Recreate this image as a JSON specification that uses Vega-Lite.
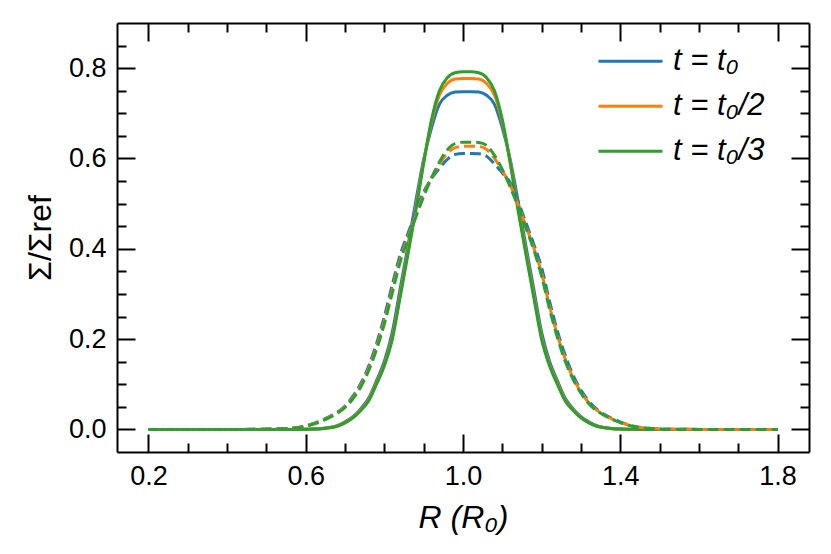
{
"$schema": "https://vega.github.io/schema/vega-lite/v6.json",
"width": 692, "height": 429,
"autosize": {"type": "none"},
"padding": {"left": 117, "top": 23, "right": 22, "bottom": 102},
"background": "white",
"data": {"values": [
{"t":"t = t₀","k":"solid","x":0.2,"y":0},{"t":"t = t₀","k":"solid","x":0.3,"y":0},{"t":"t = t₀","k":"solid","x":0.4,"y":0},{"t":"t = t₀","k":"solid","x":0.5,"y":0},{"t":"t = t₀","k":"solid","x":0.56,"y":0.0001},{"t":"t = t₀","k":"solid","x":0.6,"y":0.0004},{"t":"t = t₀","k":"solid","x":0.62,"y":0.001},{"t":"t = t₀","k":"solid","x":0.64,"y":0.0019},{"t":"t = t₀","k":"solid","x":0.66,"y":0.0042},{"t":"t = t₀","k":"solid","x":0.68,"y":0.0085},{"t":"t = t₀","k":"solid","x":0.7,"y":0.017},{"t":"t = t₀","k":"solid","x":0.72,"y":0.028},{"t":"t = t₀","k":"solid","x":0.74,"y":0.046},{"t":"t = t₀","k":"solid","x":0.76,"y":0.069},{"t":"t = t₀","k":"solid","x":0.78,"y":0.108},{"t":"t = t₀","k":"solid","x":0.8,"y":0.151},{"t":"t = t₀","k":"solid","x":0.82,"y":0.215},{"t":"t = t₀","k":"solid","x":0.84,"y":0.311},{"t":"t = t₀","k":"solid","x":0.86,"y":0.406},{"t":"t = t₀","k":"solid","x":0.88,"y":0.506},{"t":"t = t₀","k":"solid","x":0.9,"y":0.598},{"t":"t = t₀","k":"solid","x":0.92,"y":0.668},{"t":"t = t₀","k":"solid","x":0.94,"y":0.72},{"t":"t = t₀","k":"solid","x":0.96,"y":0.74},{"t":"t = t₀","k":"solid","x":0.98,"y":0.747},{"t":"t = t₀","k":"solid","x":1.0,"y":0.748},{"t":"t = t₀","k":"solid","x":1.02,"y":0.748},{"t":"t = t₀","k":"solid","x":1.04,"y":0.747},{"t":"t = t₀","k":"solid","x":1.06,"y":0.74},{"t":"t = t₀","k":"solid","x":1.08,"y":0.72},{"t":"t = t₀","k":"solid","x":1.1,"y":0.668},{"t":"t = t₀","k":"solid","x":1.12,"y":0.598},{"t":"t = t₀","k":"solid","x":1.14,"y":0.506},{"t":"t = t₀","k":"solid","x":1.16,"y":0.406},{"t":"t = t₀","k":"solid","x":1.18,"y":0.311},{"t":"t = t₀","k":"solid","x":1.2,"y":0.215},{"t":"t = t₀","k":"solid","x":1.22,"y":0.151},{"t":"t = t₀","k":"solid","x":1.24,"y":0.108},{"t":"t = t₀","k":"solid","x":1.26,"y":0.069},{"t":"t = t₀","k":"solid","x":1.28,"y":0.046},{"t":"t = t₀","k":"solid","x":1.3,"y":0.028},{"t":"t = t₀","k":"solid","x":1.32,"y":0.017},{"t":"t = t₀","k":"solid","x":1.34,"y":0.0085},{"t":"t = t₀","k":"solid","x":1.36,"y":0.0042},{"t":"t = t₀","k":"solid","x":1.38,"y":0.0019},{"t":"t = t₀","k":"solid","x":1.4,"y":0.001},{"t":"t = t₀","k":"solid","x":1.44,"y":0.0003},{"t":"t = t₀","k":"solid","x":1.48,"y":0.0001},{"t":"t = t₀","k":"solid","x":1.52,"y":0},{"t":"t = t₀","k":"solid","x":1.6,"y":0},{"t":"t = t₀","k":"solid","x":1.7,"y":0},{"t":"t = t₀","k":"solid","x":1.8,"y":0},
{"t":"t = t₀/2","k":"solid","x":0.2,"y":0},{"t":"t = t₀/2","k":"solid","x":0.3,"y":0},{"t":"t = t₀/2","k":"solid","x":0.4,"y":0},{"t":"t = t₀/2","k":"solid","x":0.5,"y":0},{"t":"t = t₀/2","k":"solid","x":0.56,"y":0.0001},{"t":"t = t₀/2","k":"solid","x":0.6,"y":0.0004},{"t":"t = t₀/2","k":"solid","x":0.62,"y":0.0009},{"t":"t = t₀/2","k":"solid","x":0.64,"y":0.0017},{"t":"t = t₀/2","k":"solid","x":0.66,"y":0.0037},{"t":"t = t₀/2","k":"solid","x":0.68,"y":0.0076},{"t":"t = t₀/2","k":"solid","x":0.7,"y":0.0157},{"t":"t = t₀/2","k":"solid","x":0.72,"y":0.0263},{"t":"t = t₀/2","k":"solid","x":0.74,"y":0.0434},{"t":"t = t₀/2","k":"solid","x":0.76,"y":0.065},{"t":"t = t₀/2","k":"solid","x":0.78,"y":0.103},{"t":"t = t₀/2","k":"solid","x":0.8,"y":0.144},{"t":"t = t₀/2","k":"solid","x":0.82,"y":0.204},{"t":"t = t₀/2","k":"solid","x":0.84,"y":0.298},{"t":"t = t₀/2","k":"solid","x":0.86,"y":0.394},{"t":"t = t₀/2","k":"solid","x":0.88,"y":0.492},{"t":"t = t₀/2","k":"solid","x":0.9,"y":0.593},{"t":"t = t₀/2","k":"solid","x":0.92,"y":0.68},{"t":"t = t₀/2","k":"solid","x":0.94,"y":0.74},{"t":"t = t₀/2","k":"solid","x":0.96,"y":0.766},{"t":"t = t₀/2","k":"solid","x":0.98,"y":0.776},{"t":"t = t₀/2","k":"solid","x":1.0,"y":0.777},{"t":"t = t₀/2","k":"solid","x":1.02,"y":0.777},{"t":"t = t₀/2","k":"solid","x":1.04,"y":0.776},{"t":"t = t₀/2","k":"solid","x":1.06,"y":0.766},{"t":"t = t₀/2","k":"solid","x":1.08,"y":0.74},{"t":"t = t₀/2","k":"solid","x":1.1,"y":0.68},{"t":"t = t₀/2","k":"solid","x":1.12,"y":0.593},{"t":"t = t₀/2","k":"solid","x":1.14,"y":0.492},{"t":"t = t₀/2","k":"solid","x":1.16,"y":0.394},{"t":"t = t₀/2","k":"solid","x":1.18,"y":0.298},{"t":"t = t₀/2","k":"solid","x":1.2,"y":0.204},{"t":"t = t₀/2","k":"solid","x":1.22,"y":0.144},{"t":"t = t₀/2","k":"solid","x":1.24,"y":0.103},{"t":"t = t₀/2","k":"solid","x":1.26,"y":0.065},{"t":"t = t₀/2","k":"solid","x":1.28,"y":0.0434},{"t":"t = t₀/2","k":"solid","x":1.3,"y":0.0263},{"t":"t = t₀/2","k":"solid","x":1.32,"y":0.0153},{"t":"t = t₀/2","k":"solid","x":1.34,"y":0.0076},{"t":"t = t₀/2","k":"solid","x":1.36,"y":0.0037},{"t":"t = t₀/2","k":"solid","x":1.38,"y":0.0017},{"t":"t = t₀/2","k":"solid","x":1.4,"y":0.0009},{"t":"t = t₀/2","k":"solid","x":1.44,"y":0.0002},{"t":"t = t₀/2","k":"solid","x":1.48,"y":0},{"t":"t = t₀/2","k":"solid","x":1.52,"y":0},{"t":"t = t₀/2","k":"solid","x":1.6,"y":0},{"t":"t = t₀/2","k":"solid","x":1.7,"y":0},{"t":"t = t₀/2","k":"solid","x":1.8,"y":0},
{"t":"t = t₀/3","k":"solid","x":0.2,"y":0},{"t":"t = t₀/3","k":"solid","x":0.3,"y":0},{"t":"t = t₀/3","k":"solid","x":0.4,"y":0},{"t":"t = t₀/3","k":"solid","x":0.5,"y":0},{"t":"t = t₀/3","k":"solid","x":0.56,"y":0},{"t":"t = t₀/3","k":"solid","x":0.6,"y":0.0004},{"t":"t = t₀/3","k":"solid","x":0.62,"y":0.0009},{"t":"t = t₀/3","k":"solid","x":0.64,"y":0.0016},{"t":"t = t₀/3","k":"solid","x":0.66,"y":0.0035},{"t":"t = t₀/3","k":"solid","x":0.68,"y":0.0071},{"t":"t = t₀/3","k":"solid","x":0.7,"y":0.0145},{"t":"t = t₀/3","k":"solid","x":0.72,"y":0.0255},{"t":"t = t₀/3","k":"solid","x":0.74,"y":0.042},{"t":"t = t₀/3","k":"solid","x":0.76,"y":0.063},{"t":"t = t₀/3","k":"solid","x":0.78,"y":0.1},{"t":"t = t₀/3","k":"solid","x":0.8,"y":0.141},{"t":"t = t₀/3","k":"solid","x":0.82,"y":0.199},{"t":"t = t₀/3","k":"solid","x":0.84,"y":0.292},{"t":"t = t₀/3","k":"solid","x":0.86,"y":0.388},{"t":"t = t₀/3","k":"solid","x":0.88,"y":0.485},{"t":"t = t₀/3","k":"solid","x":0.9,"y":0.59},{"t":"t = t₀/3","k":"solid","x":0.92,"y":0.686},{"t":"t = t₀/3","k":"solid","x":0.94,"y":0.75},{"t":"t = t₀/3","k":"solid","x":0.96,"y":0.779},{"t":"t = t₀/3","k":"solid","x":0.98,"y":0.79},{"t":"t = t₀/3","k":"solid","x":1.0,"y":0.792},{"t":"t = t₀/3","k":"solid","x":1.02,"y":0.792},{"t":"t = t₀/3","k":"solid","x":1.04,"y":0.79},{"t":"t = t₀/3","k":"solid","x":1.06,"y":0.779},{"t":"t = t₀/3","k":"solid","x":1.08,"y":0.75},{"t":"t = t₀/3","k":"solid","x":1.1,"y":0.686},{"t":"t = t₀/3","k":"solid","x":1.12,"y":0.59},{"t":"t = t₀/3","k":"solid","x":1.14,"y":0.485},{"t":"t = t₀/3","k":"solid","x":1.16,"y":0.388},{"t":"t = t₀/3","k":"solid","x":1.18,"y":0.292},{"t":"t = t₀/3","k":"solid","x":1.2,"y":0.199},{"t":"t = t₀/3","k":"solid","x":1.22,"y":0.141},{"t":"t = t₀/3","k":"solid","x":1.24,"y":0.1},{"t":"t = t₀/3","k":"solid","x":1.26,"y":0.063},{"t":"t = t₀/3","k":"solid","x":1.28,"y":0.042},{"t":"t = t₀/3","k":"solid","x":1.3,"y":0.0255},{"t":"t = t₀/3","k":"solid","x":1.32,"y":0.0145},{"t":"t = t₀/3","k":"solid","x":1.34,"y":0.0071},{"t":"t = t₀/3","k":"solid","x":1.36,"y":0.0035},{"t":"t = t₀/3","k":"solid","x":1.38,"y":0.0016},{"t":"t = t₀/3","k":"solid","x":1.4,"y":0.0009},{"t":"t = t₀/3","k":"solid","x":1.44,"y":0.0002},{"t":"t = t₀/3","k":"solid","x":1.48,"y":0},{"t":"t = t₀/3","k":"solid","x":1.52,"y":0},{"t":"t = t₀/3","k":"solid","x":1.6,"y":0},{"t":"t = t₀/3","k":"solid","x":1.7,"y":0},{"t":"t = t₀/3","k":"solid","x":1.8,"y":0},
{"t":"t = t₀","k":"dashed","x":0.2,"y":0},{"t":"t = t₀","k":"dashed","x":0.3,"y":0},{"t":"t = t₀","k":"dashed","x":0.4,"y":0},{"t":"t = t₀","k":"dashed","x":0.45,"y":0.0002},{"t":"t = t₀","k":"dashed","x":0.5,"y":0.0007},{"t":"t = t₀","k":"dashed","x":0.54,"y":0.0017},{"t":"t = t₀","k":"dashed","x":0.56,"y":0.0025},{"t":"t = t₀","k":"dashed","x":0.58,"y":0.0044},{"t":"t = t₀","k":"dashed","x":0.6,"y":0.008},{"t":"t = t₀","k":"dashed","x":0.62,"y":0.0135},{"t":"t = t₀","k":"dashed","x":0.64,"y":0.02},{"t":"t = t₀","k":"dashed","x":0.66,"y":0.0285},{"t":"t = t₀","k":"dashed","x":0.68,"y":0.038},{"t":"t = t₀","k":"dashed","x":0.7,"y":0.052},{"t":"t = t₀","k":"dashed","x":0.72,"y":0.0735},{"t":"t = t₀","k":"dashed","x":0.74,"y":0.102},{"t":"t = t₀","k":"dashed","x":0.76,"y":0.14},{"t":"t = t₀","k":"dashed","x":0.78,"y":0.19},{"t":"t = t₀","k":"dashed","x":0.8,"y":0.25},{"t":"t = t₀","k":"dashed","x":0.82,"y":0.32},{"t":"t = t₀","k":"dashed","x":0.84,"y":0.386},{"t":"t = t₀","k":"dashed","x":0.86,"y":0.434},{"t":"t = t₀","k":"dashed","x":0.88,"y":0.482},{"t":"t = t₀","k":"dashed","x":0.9,"y":0.526},{"t":"t = t₀","k":"dashed","x":0.92,"y":0.556},{"t":"t = t₀","k":"dashed","x":0.94,"y":0.578},{"t":"t = t₀","k":"dashed","x":0.96,"y":0.598},{"t":"t = t₀","k":"dashed","x":0.98,"y":0.609},{"t":"t = t₀","k":"dashed","x":1.0,"y":0.611},{"t":"t = t₀","k":"dashed","x":1.02,"y":0.611},{"t":"t = t₀","k":"dashed","x":1.04,"y":0.6105},{"t":"t = t₀","k":"dashed","x":1.06,"y":0.605},{"t":"t = t₀","k":"dashed","x":1.08,"y":0.588},{"t":"t = t₀","k":"dashed","x":1.1,"y":0.568},{"t":"t = t₀","k":"dashed","x":1.12,"y":0.547},{"t":"t = t₀","k":"dashed","x":1.14,"y":0.505},{"t":"t = t₀","k":"dashed","x":1.16,"y":0.458},{"t":"t = t₀","k":"dashed","x":1.18,"y":0.41},{"t":"t = t₀","k":"dashed","x":1.2,"y":0.358},{"t":"t = t₀","k":"dashed","x":1.22,"y":0.284},{"t":"t = t₀","k":"dashed","x":1.24,"y":0.218},{"t":"t = t₀","k":"dashed","x":1.26,"y":0.164},{"t":"t = t₀","k":"dashed","x":1.28,"y":0.12},{"t":"t = t₀","k":"dashed","x":1.3,"y":0.087},{"t":"t = t₀","k":"dashed","x":1.32,"y":0.0625},{"t":"t = t₀","k":"dashed","x":1.34,"y":0.045},{"t":"t = t₀","k":"dashed","x":1.36,"y":0.0328},{"t":"t = t₀","k":"dashed","x":1.38,"y":0.024},{"t":"t = t₀","k":"dashed","x":1.4,"y":0.0165},{"t":"t = t₀","k":"dashed","x":1.42,"y":0.0105},{"t":"t = t₀","k":"dashed","x":1.44,"y":0.006},{"t":"t = t₀","k":"dashed","x":1.46,"y":0.0035},{"t":"t = t₀","k":"dashed","x":1.5,"y":0.0013},{"t":"t = t₀","k":"dashed","x":1.55,"y":0.0005},{"t":"t = t₀","k":"dashed","x":1.6,"y":0.0001},{"t":"t = t₀","k":"dashed","x":1.7,"y":0},{"t":"t = t₀","k":"dashed","x":1.8,"y":0},
{"t":"t = t₀/2","k":"dashed","x":0.2,"y":0},{"t":"t = t₀/2","k":"dashed","x":0.3,"y":0},{"t":"t = t₀/2","k":"dashed","x":0.4,"y":0},{"t":"t = t₀/2","k":"dashed","x":0.45,"y":0.0001},{"t":"t = t₀/2","k":"dashed","x":0.5,"y":0.0006},{"t":"t = t₀/2","k":"dashed","x":0.54,"y":0.0016},{"t":"t = t₀/2","k":"dashed","x":0.56,"y":0.0023},{"t":"t = t₀/2","k":"dashed","x":0.58,"y":0.0041},{"t":"t = t₀/2","k":"dashed","x":0.6,"y":0.0074},{"t":"t = t₀/2","k":"dashed","x":0.62,"y":0.0125},{"t":"t = t₀/2","k":"dashed","x":0.64,"y":0.0187},{"t":"t = t₀/2","k":"dashed","x":0.66,"y":0.0271},{"t":"t = t₀/2","k":"dashed","x":0.68,"y":0.0365},{"t":"t = t₀/2","k":"dashed","x":0.7,"y":0.0498},{"t":"t = t₀/2","k":"dashed","x":0.72,"y":0.07},{"t":"t = t₀/2","k":"dashed","x":0.74,"y":0.097},{"t":"t = t₀/2","k":"dashed","x":0.76,"y":0.134},{"t":"t = t₀/2","k":"dashed","x":0.78,"y":0.182},{"t":"t = t₀/2","k":"dashed","x":0.8,"y":0.24},{"t":"t = t₀/2","k":"dashed","x":0.82,"y":0.308},{"t":"t = t₀/2","k":"dashed","x":0.84,"y":0.376},{"t":"t = t₀/2","k":"dashed","x":0.86,"y":0.426},{"t":"t = t₀/2","k":"dashed","x":0.88,"y":0.474},{"t":"t = t₀/2","k":"dashed","x":0.9,"y":0.52},{"t":"t = t₀/2","k":"dashed","x":0.92,"y":0.557},{"t":"t = t₀/2","k":"dashed","x":0.94,"y":0.587},{"t":"t = t₀/2","k":"dashed","x":0.96,"y":0.611},{"t":"t = t₀/2","k":"dashed","x":0.98,"y":0.624},{"t":"t = t₀/2","k":"dashed","x":1.0,"y":0.627},{"t":"t = t₀/2","k":"dashed","x":1.02,"y":0.627},{"t":"t = t₀/2","k":"dashed","x":1.04,"y":0.6265},{"t":"t = t₀/2","k":"dashed","x":1.06,"y":0.62},{"t":"t = t₀/2","k":"dashed","x":1.08,"y":0.6},{"t":"t = t₀/2","k":"dashed","x":1.1,"y":0.573},{"t":"t = t₀/2","k":"dashed","x":1.12,"y":0.541},{"t":"t = t₀/2","k":"dashed","x":1.14,"y":0.498},{"t":"t = t₀/2","k":"dashed","x":1.16,"y":0.45},{"t":"t = t₀/2","k":"dashed","x":1.18,"y":0.402},{"t":"t = t₀/2","k":"dashed","x":1.2,"y":0.346},{"t":"t = t₀/2","k":"dashed","x":1.22,"y":0.273},{"t":"t = t₀/2","k":"dashed","x":1.24,"y":0.209},{"t":"t = t₀/2","k":"dashed","x":1.26,"y":0.156},{"t":"t = t₀/2","k":"dashed","x":1.28,"y":0.114},{"t":"t = t₀/2","k":"dashed","x":1.3,"y":0.0825},{"t":"t = t₀/2","k":"dashed","x":1.32,"y":0.059},{"t":"t = t₀/2","k":"dashed","x":1.34,"y":0.0428},{"t":"t = t₀/2","k":"dashed","x":1.36,"y":0.0316},{"t":"t = t₀/2","k":"dashed","x":1.38,"y":0.0227},{"t":"t = t₀/2","k":"dashed","x":1.4,"y":0.0155},{"t":"t = t₀/2","k":"dashed","x":1.42,"y":0.0098},{"t":"t = t₀/2","k":"dashed","x":1.44,"y":0.0057},{"t":"t = t₀/2","k":"dashed","x":1.46,"y":0.0032},{"t":"t = t₀/2","k":"dashed","x":1.5,"y":0.0012},{"t":"t = t₀/2","k":"dashed","x":1.55,"y":0.0004},{"t":"t = t₀/2","k":"dashed","x":1.6,"y":0.0001},{"t":"t = t₀/2","k":"dashed","x":1.7,"y":0},{"t":"t = t₀/2","k":"dashed","x":1.8,"y":0},
{"t":"t = t₀/3","k":"dashed","x":0.2,"y":0},{"t":"t = t₀/3","k":"dashed","x":0.3,"y":0},{"t":"t = t₀/3","k":"dashed","x":0.4,"y":0},{"t":"t = t₀/3","k":"dashed","x":0.45,"y":0.0001},{"t":"t = t₀/3","k":"dashed","x":0.5,"y":0.0006},{"t":"t = t₀/3","k":"dashed","x":0.54,"y":0.0015},{"t":"t = t₀/3","k":"dashed","x":0.56,"y":0.0022},{"t":"t = t₀/3","k":"dashed","x":0.58,"y":0.004},{"t":"t = t₀/3","k":"dashed","x":0.6,"y":0.007},{"t":"t = t₀/3","k":"dashed","x":0.62,"y":0.012},{"t":"t = t₀/3","k":"dashed","x":0.64,"y":0.018},{"t":"t = t₀/3","k":"dashed","x":0.66,"y":0.0263},{"t":"t = t₀/3","k":"dashed","x":0.68,"y":0.0356},{"t":"t = t₀/3","k":"dashed","x":0.7,"y":0.0485},{"t":"t = t₀/3","k":"dashed","x":0.72,"y":0.068},{"t":"t = t₀/3","k":"dashed","x":0.74,"y":0.094},{"t":"t = t₀/3","k":"dashed","x":0.76,"y":0.13},{"t":"t = t₀/3","k":"dashed","x":0.78,"y":0.177},{"t":"t = t₀/3","k":"dashed","x":0.8,"y":0.234},{"t":"t = t₀/3","k":"dashed","x":0.82,"y":0.302},{"t":"t = t₀/3","k":"dashed","x":0.84,"y":0.37},{"t":"t = t₀/3","k":"dashed","x":0.86,"y":0.422},{"t":"t = t₀/3","k":"dashed","x":0.88,"y":0.47},{"t":"t = t₀/3","k":"dashed","x":0.9,"y":0.516},{"t":"t = t₀/3","k":"dashed","x":0.92,"y":0.557},{"t":"t = t₀/3","k":"dashed","x":0.94,"y":0.592},{"t":"t = t₀/3","k":"dashed","x":0.96,"y":0.619},{"t":"t = t₀/3","k":"dashed","x":0.98,"y":0.633},{"t":"t = t₀/3","k":"dashed","x":1.0,"y":0.636},{"t":"t = t₀/3","k":"dashed","x":1.02,"y":0.636},{"t":"t = t₀/3","k":"dashed","x":1.04,"y":0.6355},{"t":"t = t₀/3","k":"dashed","x":1.06,"y":0.629},{"t":"t = t₀/3","k":"dashed","x":1.08,"y":0.607},{"t":"t = t₀/3","k":"dashed","x":1.1,"y":0.576},{"t":"t = t₀/3","k":"dashed","x":1.12,"y":0.537},{"t":"t = t₀/3","k":"dashed","x":1.14,"y":0.494},{"t":"t = t₀/3","k":"dashed","x":1.16,"y":0.446},{"t":"t = t₀/3","k":"dashed","x":1.18,"y":0.398},{"t":"t = t₀/3","k":"dashed","x":1.2,"y":0.339},{"t":"t = t₀/3","k":"dashed","x":1.22,"y":0.267},{"t":"t = t₀/3","k":"dashed","x":1.24,"y":0.204},{"t":"t = t₀/3","k":"dashed","x":1.26,"y":0.151},{"t":"t = t₀/3","k":"dashed","x":1.28,"y":0.111},{"t":"t = t₀/3","k":"dashed","x":1.3,"y":0.08},{"t":"t = t₀/3","k":"dashed","x":1.32,"y":0.057},{"t":"t = t₀/3","k":"dashed","x":1.34,"y":0.0415},{"t":"t = t₀/3","k":"dashed","x":1.36,"y":0.031},{"t":"t = t₀/3","k":"dashed","x":1.38,"y":0.022},{"t":"t = t₀/3","k":"dashed","x":1.4,"y":0.0149},{"t":"t = t₀/3","k":"dashed","x":1.42,"y":0.0094},{"t":"t = t₀/3","k":"dashed","x":1.44,"y":0.0055},{"t":"t = t₀/3","k":"dashed","x":1.46,"y":0.003},{"t":"t = t₀/3","k":"dashed","x":1.5,"y":0.0012},{"t":"t = t₀/3","k":"dashed","x":1.55,"y":0.0004},{"t":"t = t₀/3","k":"dashed","x":1.6,"y":0.0001},{"t":"t = t₀/3","k":"dashed","x":1.7,"y":0},{"t":"t = t₀/3","k":"dashed","x":1.8,"y":0}
]},
"encoding": {
  "color": {"field": "t", "type": "nominal",
    "scale": {"domain": ["t = t₀", "t = t₀/2", "t = t₀/3"], "range": ["#1f77b4", "#ff7f0e", "#2ca02c"]},
    "legend": {"orient": "none", "legendX": 480, "legendY": 16, "title": null, "symbolType": "stroke", "symbolSize": 4096, "symbolStrokeWidth": 3, "symbolDash": [1, 0], "labelFont": "Liberation Sans", "labelFontSize": 31, "labelFontStyle": "italic", "labelColor": "black", "labelOffset": 9, "clipHeight": 44.5, "rowPadding": 0, "padding": 0}
  }
},
"layer": [
  {
    "transform": [{"filter": "datum.k === 'solid'"}],
    "mark": {"type": "line", "strokeWidth": 3, "interpolate": "monotone", "clip": true},
    "encoding": {
      "x": {"field": "x", "type": "quantitative", "scale": {"domain": [0.12, 1.88], "nice": false, "zero": false},
        "axis": {"orient": "bottom", "values": [0.2,0.3,0.4,0.5,0.6,0.7,0.8,0.9,1.0,1.1,1.2,1.3,1.4,1.5,1.6,1.7,1.8],
          "labelExpr": "abs((datum.value - 0.2) / 0.4 - round((datum.value - 0.2) / 0.4)) < 0.001 ? format(datum.value, '.1f') : ''",
          "tickSize": {"condition": {"test": "abs((datum.value - 0.2) / 0.4 - round((datum.value - 0.2) / 0.4)) < 0.001", "value": -18}, "value": -9},
          "labelPadding": 29, "title": "R (R₀)", "titleFontStyle": "italic", "titlePadding": 4}},
      "y": {"field": "y", "type": "quantitative", "scale": {"domain": [-0.05, 0.9], "nice": false, "zero": false},
        "axis": {"orient": "left", "values": [0,0.05,0.1,0.15,0.2,0.25,0.3,0.35,0.4,0.45,0.5,0.55,0.6,0.65,0.7,0.75,0.8,0.85],
          "labelExpr": "abs(datum.value * 5 - round(datum.value * 5)) < 0.001 ? format(datum.value, '.1f') : ''",
          "tickSize": {"condition": {"test": "abs(datum.value * 5 - round(datum.value * 5)) < 0.001", "value": -18}, "value": -9},
          "labelPadding": 29, "title": "Σ/Σref", "titlePadding": 11}}
    }
  },
  {
    "transform": [{"filter": "datum.k === 'dashed'"}],
    "mark": {"type": "line", "strokeWidth": 3, "strokeDash": [11, 5], "interpolate": "monotone", "clip": true},
    "encoding": {
      "x": {"field": "x", "type": "quantitative", "scale": {"domain": [0.12, 1.88], "nice": false, "zero": false},
        "axis": {"orient": "top", "values": [0.2,0.3,0.4,0.5,0.6,0.7,0.8,0.9,1.0,1.1,1.2,1.3,1.4,1.5,1.6,1.7,1.8], "labels": false, "title": null,
          "tickSize": {"condition": {"test": "abs((datum.value - 0.2) / 0.4 - round((datum.value - 0.2) / 0.4)) < 0.001", "value": -18}, "value": -9}}},
      "y": {"field": "y", "type": "quantitative", "scale": {"domain": [-0.05, 0.9], "nice": false, "zero": false},
        "axis": {"orient": "right", "values": [0,0.05,0.1,0.15,0.2,0.25,0.3,0.35,0.4,0.45,0.5,0.55,0.6,0.65,0.7,0.75,0.8,0.85], "labels": false, "title": null,
          "tickSize": {"condition": {"test": "abs(datum.value * 5 - round(datum.value * 5)) < 0.001", "value": -18}, "value": -9}}}
    }
  }
],
"resolve": {"axis": {"x": "independent", "y": "independent"}},
"config": {
  "view": {"stroke": null},
  "font": "Liberation Sans",
  "axis": {"grid": false, "domainColor": "black", "domainWidth": 2, "tickColor": "black", "tickWidth": 2,
    "labelFont": "Liberation Sans", "labelFontSize": 27, "labelColor": "black", "labelFlush": false, "labelOverlap": false,
    "titleFont": "Liberation Sans", "titleFontSize": 32, "titleFontWeight": "normal", "titleColor": "black"}
}
}
